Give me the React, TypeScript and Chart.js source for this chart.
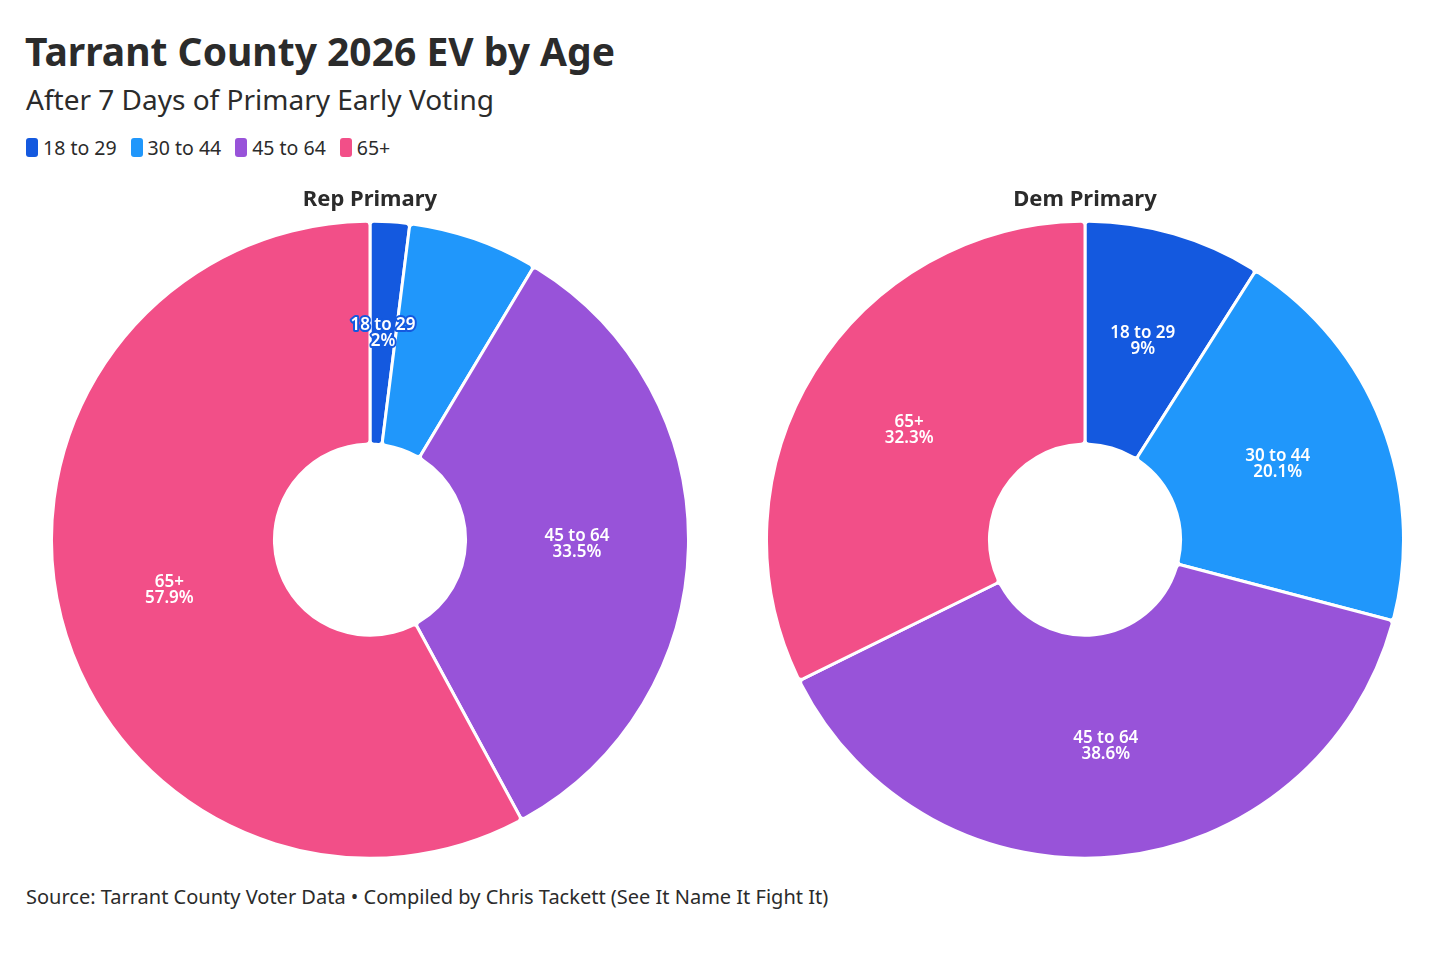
import React, { useEffect, useRef } from "react";
import { Chart, registerables } from "chart.js";

Chart.register(...registerables);

const TITLE = "Tarrant County 2026 EV by Age";
const SUBTITLE = "After 7 Days of Primary Early Voting";
const SOURCE = "Source: Tarrant County Voter Data \u2022 Compiled by Chris Tackett (See It Name It Fight It)";
const categories = ["18 to 29", "30 to 44", "45 to 64", "65+"];
const colors = ["#1459DF", "#2097FB", "#9853D9", "#F24F88"];
const repTitle = "Rep Primary";
const repValues = [2, 6.6, 33.5, 57.9];
const demTitle = "Dem Primary";
const demValues = [9, 20.1, 38.6, 32.3];

const FONT = "'Noto Sans', 'Open Sans', sans-serif";

const sliceLabels = {
  id: "sliceLabels",
  afterDatasetsDraw(chart: any) {
    const ctx = chart.ctx;
    const meta = chart.getDatasetMeta(0);
    const ds = chart.data.datasets[0];
    const placed: { x1: number; y1: number; x2: number; y2: number }[] = [];
    ctx.save();
    ctx.font = `600 17px ${FONT}`;
    ctx.textAlign = "center";
    ctx.textBaseline = "middle";
    const lh = 16;
    meta.data.forEach((arc: any, i: number) => {
      const p = arc.getProps(["x", "y", "startAngle", "endAngle", "innerRadius", "outerRadius"], true);
      const mid = (p.startAngle + p.endAngle) / 2;
      const r = (p.innerRadius + p.outerRadius) / 2;
      const cx = p.x + Math.cos(mid) * r;
      const cy = p.y + Math.sin(mid) * r;
      const lines = [String(chart.data.labels[i]), String(ds.data[i]) + "%"];
      const w = Math.max(...lines.map((l) => ctx.measureText(l).width));
      const h = lh * 2;
      const box = { x1: cx - w / 2, y1: cy - h / 2, x2: cx + w / 2, y2: cy + h / 2 };
      const hit = placed.some((b) => !(box.x2 < b.x1 || box.x1 > b.x2 || box.y2 < b.y1 || box.y1 > b.y2));
      if (hit) return;
      placed.push(box);
      const chord = (p.endAngle - p.startAngle) * r;
      const outline = chord < w;
      lines.forEach((l, k) => {
        const y = cy + (k - 0.5) * lh;
        if (outline) {
          ctx.lineWidth = 4;
          ctx.lineJoin = "round";
          ctx.strokeStyle = colors[i];
          ctx.strokeText(l, cx, y);
        }
        ctx.fillStyle = "#ffffff";
        ctx.fillText(l, cx, y);
      });
    });
    ctx.restore();
  },
};

function Pie({ title, values, left }: { title: string; values: number[]; left: number }) {
  const ref = useRef<HTMLCanvasElement>(null);
  useEffect(() => {
    const chart = new Chart(ref.current!, {
      type: "doughnut",
      data: {
        labels: categories,
        datasets: [
          {
            data: values,
            backgroundColor: colors,
            borderColor: "#ffffff",
            borderWidth: 3,
            borderRadius: 4,
          },
        ],
      },
      options: {
        animation: false,
        responsive: false,
        cutout: "30%",
        layout: { padding: 0 },
        plugins: {
          legend: { display: false },
          tooltip: { enabled: false },
          title: {
            display: true,
            text: title,
            color: "#2b2b2b",
            font: { family: FONT, size: 22, weight: "bold" },
            padding: { top: 7, bottom: 6 },
          },
        },
      },
      plugins: [sliceLabels],
    });
    return () => chart.destroy();
  }, []);
  return (
    <canvas
      ref={ref}
      width={640}
      height={680}
      style={{ position: "absolute", left, top: 180, width: 640, height: 680 }}
    />
  );
}

export default function App() {
  return (
    <div style={{ position: "absolute", left: 0, top: 0, width: 1456, height: 970, background: "#fff", fontFamily: FONT, color: "#2b2b2b" }}>
      <div style={{ position: "absolute", left: 25, top: 31, fontSize: 39, fontWeight: 700, lineHeight: 1, whiteSpace: "nowrap" }}>{TITLE}</div>
      <div style={{ position: "absolute", left: 26, top: 85, fontSize: 28, fontWeight: 400, lineHeight: 1, whiteSpace: "nowrap" }}>{SUBTITLE}</div>
      <div style={{ position: "absolute", left: 26, top: 138, display: "flex", alignItems: "center", fontSize: 19.5, lineHeight: 1 }}>
        {categories.map((c, i) => (
          <div key={c} style={{ display: "flex", alignItems: "center", marginRight: 14 }}>
            <span style={{ display: "inline-block", width: 12, height: 19, borderRadius: 3, background: colors[i], marginRight: 5 }} />
            <span>{c}</span>
          </div>
        ))}
      </div>
      <Pie title={repTitle} values={repValues} left={50} />
      <Pie title={demTitle} values={demValues} left={765} />
      <div style={{ position: "absolute", left: 26, top: 887, fontSize: 20, lineHeight: 1, whiteSpace: "nowrap" }}>{SOURCE}</div>
    </div>
  );
}
